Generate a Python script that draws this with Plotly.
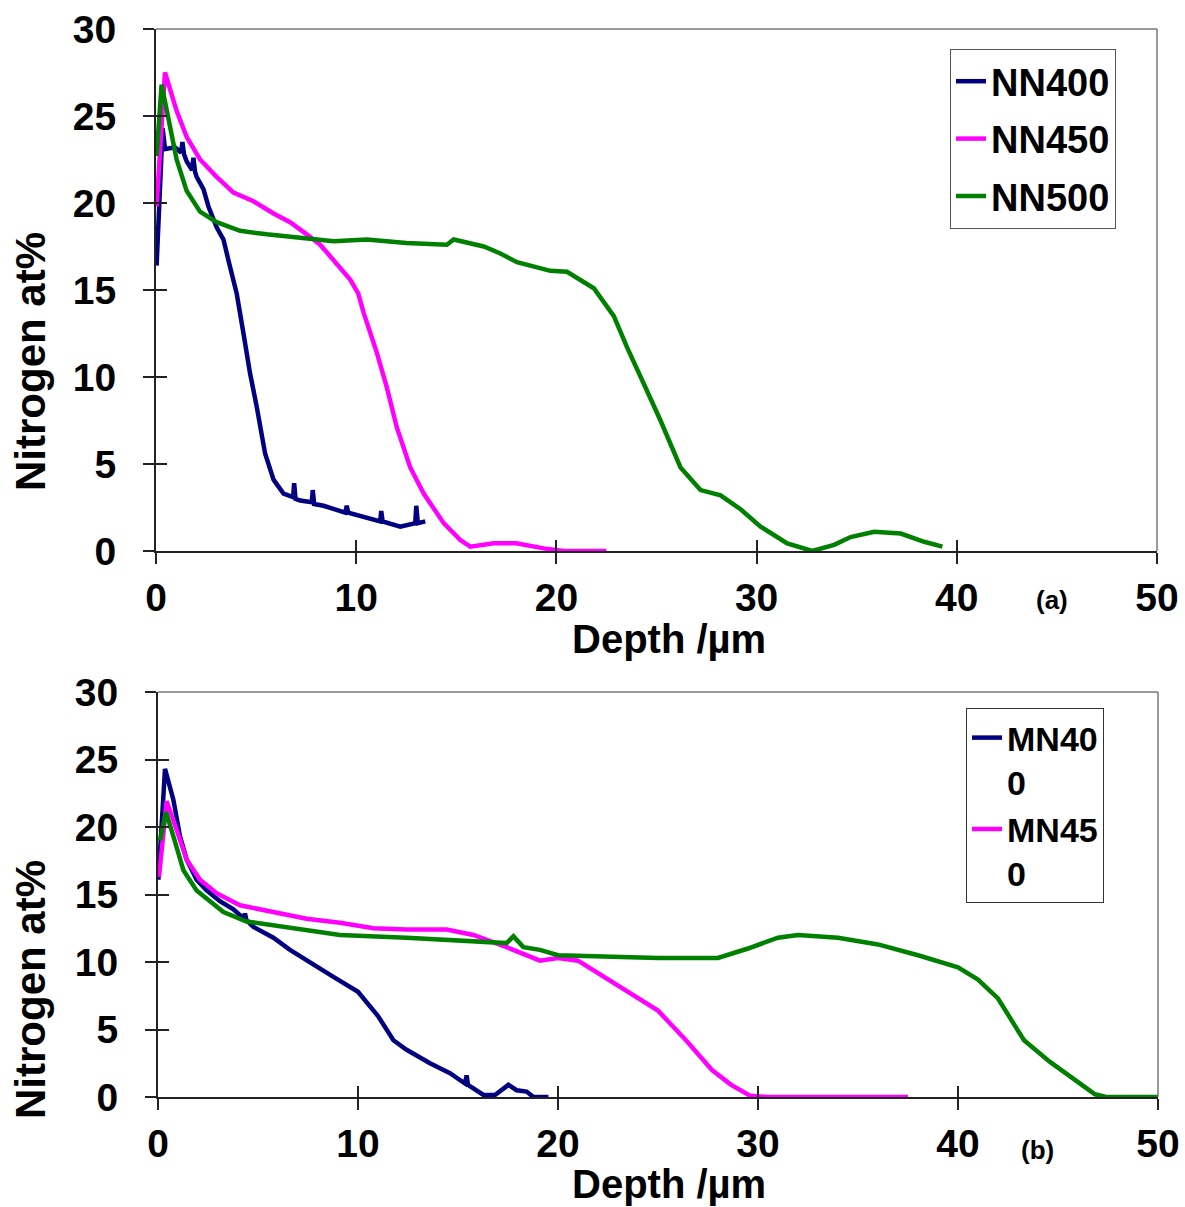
import plotly.graph_objects as go

# ---- (a) nitrided samples NN400 / NN450 / NN500 ----
nn400_depth = [0.03, 0.33, 0.45, 0.95, 1.25, 1.32, 1.40, 1.53, 1.80, 1.87, 1.95, 2.03, 2.37, 2.62, 3.03, 3.37,
               3.62, 4.03, 4.37, 4.70, 5.03, 5.20, 5.45, 5.87, 6.37, 6.85, 6.90, 6.97, 7.20, 7.78, 7.83, 7.90,
               8.37, 9.45, 9.53, 9.60, 10.20, 11.20, 11.25, 11.32, 12.20, 12.87, 12.95, 13.00, 13.08, 13.45]
nn400_n = [16.4, 24.3, 23.1, 23.2, 22.9, 23.5, 22.8, 22.4, 21.9, 22.6, 21.8, 21.5, 20.8, 19.8, 18.6, 17.9,
           16.7, 14.8, 12.5, 10.2, 8.3, 7.1, 5.6, 4.1, 3.3, 3.1, 3.9, 3.0, 2.9, 2.8, 3.5, 2.7,
           2.6, 2.2, 2.6, 2.2, 2.0, 1.7, 2.3, 1.7, 1.4, 1.55, 1.6, 2.6, 1.6, 1.7]

nn450_depth = [0.03, 0.45, 1.03, 1.53, 2.20, 3.03, 3.87, 4.87, 5.87, 6.70, 7.53, 8.20, 9.03, 9.70, 10.10,
               10.37, 11.03, 11.53, 12.03, 12.70, 13.37, 14.37, 15.20, 15.70, 16.87, 18.00, 19.37, 20.37, 22.50]
nn450_n = [19.8, 27.5, 25.3, 23.8, 22.5, 21.5, 20.6, 20.1, 19.4, 18.9, 18.2, 17.6, 16.5, 15.6, 14.8,
           13.7, 11.4, 9.4, 7.1, 4.8, 3.3, 1.6, 0.63, 0.25, 0.44, 0.44, 0.15, 0.0, 0.0]

nn500_depth = [0.03, 0.28, 0.70, 1.03, 1.53, 2.20, 3.03, 4.20, 5.53, 7.20, 8.87, 10.53, 12.50, 14.53, 14.87,
               16.37, 17.20, 18.03, 19.70, 20.53, 21.87, 22.87, 23.53, 24.37, 25.20, 26.20, 27.20, 28.20,
               29.20, 30.20, 31.53, 32.78, 33.87, 34.70, 35.87, 37.20, 38.37, 39.28]
nn500_n = [22.7, 26.8, 24.4, 22.5, 20.7, 19.5, 18.9, 18.4, 18.2, 18.0, 17.8, 17.9, 17.7, 17.6, 17.9,
           17.5, 17.1, 16.6, 16.1, 16.05, 15.1, 13.5, 11.7, 9.6, 7.5, 4.8, 3.5, 3.2,
           2.4, 1.4, 0.44, 0.0, 0.35, 0.8, 1.1, 1.0, 0.53, 0.25]

# ---- (b) samples MN400 / MN450 / MN500 ----
mn400_depth = [0.02, 0.35, 0.77, 1.10, 1.43, 1.93, 2.43, 3.10, 3.77, 4.30, 4.35, 4.42, 4.77, 5.77, 6.60,
               7.43, 8.77, 10.00, 11.00, 11.77, 12.43, 13.60, 14.60, 15.35, 15.43, 15.50, 16.27, 16.85,
               17.52, 17.93, 18.43, 18.77, 19.52]
mn400_n = [16.1, 24.3, 22.0, 19.3, 17.6, 16.1, 15.3, 14.5, 13.9, 13.2, 13.6, 13.1, 12.6, 11.8, 10.9,
           10.1, 8.9, 7.8, 6.0, 4.2, 3.5, 2.5, 1.76, 1.0, 1.6, 0.9, 0.15, 0.15,
           0.9, 0.5, 0.4, 0.0, 0.0]

mn450_depth = [0.05, 0.43, 0.93, 1.43, 2.10, 2.93, 4.10, 5.77, 7.43, 9.10, 10.77, 12.43, 14.43, 15.77,
               17.43, 19.10, 20.00, 21.00, 22.50, 25.00, 26.40, 27.70, 28.66, 29.60, 30.50, 37.50]
mn450_n = [16.3, 21.9, 19.8, 17.6, 16.1, 15.1, 14.2, 13.7, 13.2, 12.9, 12.5, 12.4, 12.4, 12.0,
           11.1, 10.1, 10.3, 10.1, 8.7, 6.4, 4.2, 2.0, 0.9, 0.1, 0.0, 0.0]

mn500_depth = [0.10, 0.40, 0.77, 1.27, 1.93, 3.27, 4.43, 6.60, 9.10, 12.43, 15.77, 17.43, 17.77, 18.27,
               19.10, 20.00, 25.00, 28.00, 29.50, 31.00, 32.00, 34.00, 36.00, 38.00, 40.00, 41.00, 42.00,
               43.30, 44.60, 45.90, 46.85, 47.40, 50.00]
mn500_n = [19.0, 21.1, 19.3, 16.8, 15.3, 13.7, 13.0, 12.5, 12.0, 11.8, 11.5, 11.4, 11.9, 11.1,
           10.9, 10.5, 10.3, 10.3, 11.0, 11.8, 12.0, 11.8, 11.3, 10.5, 9.6, 8.7, 7.3,
           4.2, 2.6, 1.2, 0.2, 0.0, 0.0]

x_ticks = [0, 10, 20, 30, 40, 50]
y_ticks = [0, 5, 10, 15, 20, 25, 30]

NAVY = "#000080"
MAGENTA = "#FF00FF"
GREEN = "#008000"
FONT = "Liberation Sans, Arial, sans-serif"
W, H = 1185, 1207
LW = 4.5

def px_x(p):
    return p / W

def px_y(p):
    return 1 - p / H

fig = go.Figure()

top = [("NN400", nn400_depth, nn400_n, NAVY),
       ("NN450", nn450_depth, nn450_n, MAGENTA),
       ("NN500", nn500_depth, nn500_n, GREEN)]
for name, xs, ys, col in top:
    fig.add_trace(go.Scatter(x=xs, y=ys, mode="lines", name=name, xaxis="x", yaxis="y",
                             line=dict(color=col, width=LW), legend="legend", legendgroup=name))

bottom = [("MN40<br>0", mn400_depth, mn400_n, NAVY, True),
          ("MN45<br>0", mn450_depth, mn450_n, MAGENTA, True),
          ("MN500", mn500_depth, mn500_n, GREEN, False)]
for name, xs, ys, col, show in bottom:
    fig.add_trace(go.Scatter(x=xs, y=ys, mode="lines", name=name, xaxis="x2", yaxis="y2",
                             line=dict(color=col, width=LW), legend="legend2", showlegend=show))

# empty traces so the inner-tick overlay axes exist
fig.add_trace(go.Scatter(x=[None], y=[None], xaxis="x3", yaxis="y3", showlegend=False, hoverinfo="skip"))
fig.add_trace(go.Scatter(x=[None], y=[None], xaxis="x4", yaxis="y4", showlegend=False, hoverinfo="skip"))

tickfont = dict(family=FONT, size=39, color="black", weight="bold")
axis_common = dict(showgrid=False, zeroline=False, showline=True, linecolor="#222222", linewidth=2,
                   ticks="outside", ticklen=11, tickwidth=1.5, tickcolor="#222222",
                   tickfont=tickfont, fixedrange=True, automargin=False)
inner_common = dict(showgrid=False, zeroline=False, showline=False, ticks="inside", ticklen=11,
                    tickwidth=1.5, tickcolor="#222222", showticklabels=False, fixedrange=True,
                    automargin=False)

top_xdom = [px_x(156), px_x(1157)]
top_ydom = [px_y(551), px_y(29)]
bot_xdom = [px_x(158), px_x(1158)]
bot_ydom = [px_y(1097), px_y(692)]

fig.update_layout(
    width=W, height=H,
    margin=dict(l=0, r=0, t=0, b=0, pad=0, autoexpand=False),
    plot_bgcolor="white", paper_bgcolor="white",
    xaxis=dict(domain=top_xdom, anchor="y", range=[0, 50], tickvals=x_ticks,
               ticklabelstandoff=0, **axis_common),
    yaxis=dict(domain=top_ydom, anchor="x", range=[0, 30], tickvals=y_ticks,
               ticklabelstandoff=19, **axis_common),
    xaxis2=dict(domain=bot_xdom, anchor="y2", range=[0, 50], tickvals=x_ticks,
                ticklabelstandoff=0, **axis_common),
    yaxis2=dict(domain=bot_ydom, anchor="x2", range=[0, 30], tickvals=y_ticks,
                ticklabelstandoff=19, **axis_common),
    xaxis3=dict(overlaying="x", anchor="y", range=[0, 50], tickvals=x_ticks, **inner_common),
    yaxis3=dict(overlaying="y", anchor="x", range=[0, 30], tickvals=y_ticks, **inner_common),
    xaxis4=dict(overlaying="x2", anchor="y2", range=[0, 50], tickvals=x_ticks, **inner_common),
    yaxis4=dict(overlaying="y2", anchor="x2", range=[0, 30], tickvals=y_ticks, **inner_common),
    legend=dict(x=px_x(950), y=px_y(49), xanchor="left", yanchor="top",
                bgcolor="white", bordercolor="#555555", borderwidth=1,
                font=dict(family=FONT, size=38, color="black", weight="bold"),
                itemwidth=30, tracegroupgap=5),
    legend2=dict(x=px_x(966), y=px_y(708), xanchor="left", yanchor="top",
                 bgcolor="white", bordercolor="#333333", borderwidth=1, valign="top",
                 font=dict(family=FONT, size=34, color="black", weight="bold"),
                 itemwidth=30, tracegroupgap=0),
    showlegend=True,
)

# plot-area frame: thin grey top and right edges
for xr, yr in (("x domain", "y domain"), ("x2 domain", "y2 domain")):
    fig.add_shape(type="line", xref=xr, yref=yr, x0=0, x1=1, y0=1, y1=1,
                  line=dict(color="#777777", width=1.5))
    fig.add_shape(type="line", xref=xr, yref=yr, x0=1, x1=1, y0=0, y1=1,
                  line=dict(color="#777777", width=1.5))

title_font = dict(family=FONT, size=40, color="black", weight="bold")
annotations = [
    dict(text="Depth /µm", x=px_x(669), y=px_y(639), font=title_font),
    dict(text="Depth /µm", x=px_x(669), y=px_y(1184), font=title_font),
    dict(text="Nitrogen at%", x=px_x(30), y=px_y(362), textangle=-90, font=dict(title_font, size=42)),
    dict(text="Nitrogen at%", x=px_x(30), y=px_y(990), textangle=-90, font=dict(title_font, size=42)),
    dict(text="(a)", x=px_x(1052), y=px_y(600), font=dict(family=FONT, size=26, color="black", weight="bold")),
    dict(text="(b)", x=px_x(1037), y=px_y(1150), font=dict(family=FONT, size=26, color="black", weight="bold")),
]
for a in annotations:
    fig.add_annotation(xref="paper", yref="paper", xanchor="center", yanchor="middle",
                       showarrow=False, **a)

fig.write_html("out.html")
